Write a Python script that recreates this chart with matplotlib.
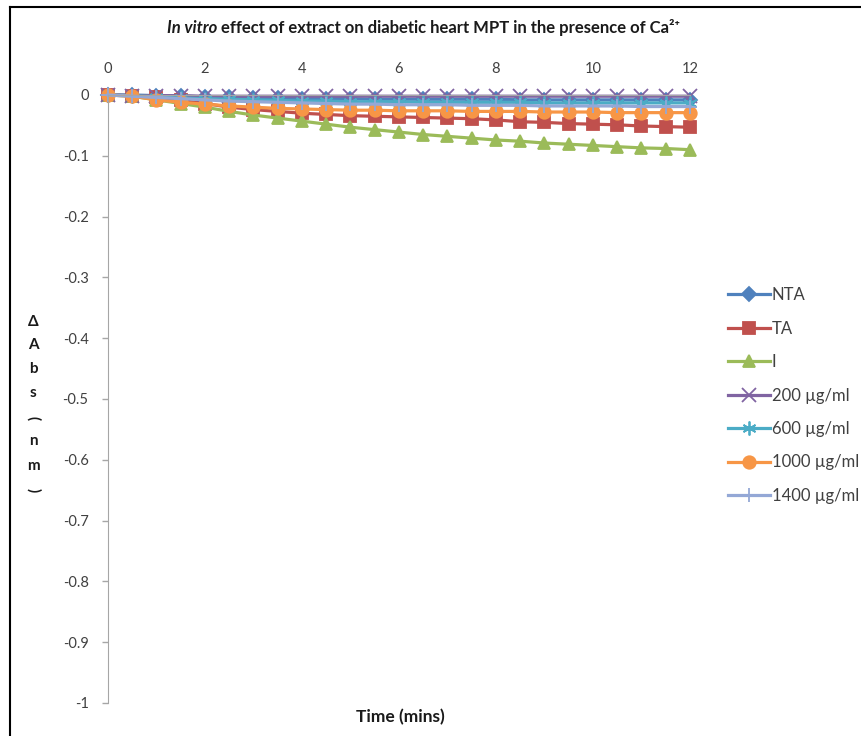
import numpy as np
import matplotlib
matplotlib.use('Agg')
import matplotlib.pyplot as plt
from matplotlib.lines import Line2D

plt.rcParams['font.family'] = ['Lato', 'DejaVu Sans']

# time points (mins)
time = [0, 0.5, 1, 1.5, 2, 2.5, 3, 3.5, 4, 4.5, 5, 5.5, 6, 6.5, 7, 7.5,
        8, 8.5, 9, 9.5, 10, 10.5, 11, 11.5, 12]

nta = [0, 0, -0.001, -0.002, -0.003, -0.004, -0.005, -0.005, -0.006, -0.006,
       -0.006, -0.007, -0.007, -0.007, -0.007, -0.007, -0.007, -0.008, -0.008,
       -0.008, -0.008, -0.008, -0.008, -0.008, -0.008]
ta = [0, -0.001, -0.004, -0.009, -0.014, -0.020, -0.024, -0.027, -0.030, -0.032,
      -0.034, -0.035, -0.036, -0.037, -0.038, -0.039, -0.041, -0.044, -0.045,
      -0.047, -0.048, -0.049, -0.051, -0.052, -0.053]
ind = [0, -0.002, -0.008, -0.014, -0.020, -0.027, -0.033, -0.038, -0.043, -0.048,
       -0.053, -0.057, -0.061, -0.065, -0.068, -0.071, -0.074, -0.076, -0.079,
       -0.081, -0.083, -0.085, -0.087, -0.088, -0.090]
c200 = [0, -0.001, -0.001, -0.001, -0.002, -0.002, -0.002, -0.002, -0.002, -0.002,
        -0.002, -0.002, -0.002, -0.002, -0.002, -0.002, -0.002, -0.002, -0.002,
        -0.002, -0.002, -0.002, -0.002, -0.002, -0.002]
c600 = [0, -0.001, -0.003, -0.005, -0.006, -0.007, -0.008, -0.009, -0.010, -0.010,
        -0.011, -0.011, -0.011, -0.012, -0.012, -0.012, -0.012, -0.012, -0.013,
        -0.013, -0.013, -0.013, -0.013, -0.013, -0.013]
c1000 = [0, -0.002, -0.008, -0.012, -0.015, -0.018, -0.020, -0.022, -0.023, -0.024,
         -0.025, -0.025, -0.026, -0.026, -0.026, -0.027, -0.027, -0.027, -0.028,
         -0.028, -0.028, -0.029, -0.029, -0.029, -0.029]
c1400 = [0, -0.002, -0.004, -0.006, -0.008, -0.010, -0.011, -0.012, -0.013, -0.014,
         -0.015, -0.015, -0.016, -0.016, -0.016, -0.017, -0.017, -0.017, -0.018,
         -0.018, -0.018, -0.018, -0.019, -0.019, -0.019]

labels = ['NTA', 'TA', 'I', '200 µg/ml', '600 µg/ml', '1000 µg/ml', '1400 µg/ml']
series = [nta, ta, ind, c200, c600, c1000, c1400]
colors = ['#4F81BD', '#C0504D', '#9BBB59', '#8064A2', '#4BACC6', '#F79646', '#94A8D6']
markers = ['D', 's', '^', 'x', (6, 2, 0), 'o', '+']
msizes = [7, 9, 9, 10, 10, 9, 10]

yticks = [0, -0.1, -0.2, -0.3, -0.4, -0.5, -0.6, -0.7, -0.8, -0.9, -1]
ytick_labels = ['0', '-0.1', '-0.2', '-0.3', '-0.4', '-0.5', '-0.6', '-0.7', '-0.8', '-0.9', '-1']
xticks = [0, 2, 4, 6, 8, 10, 12]

W, H = 862, 736
fig = plt.figure(figsize=(W / 100, H / 100), dpi=100)
ax = fig.add_axes([108 / W, 1 - 703 / H, 582 / W, (703 - 95) / H])

for y, lab, c, m, ms in zip(series, labels, colors, markers, msizes):
    ax.plot(time, y, color=c, lw=2.3, marker=m, markersize=ms,
            markerfacecolor=c, markeredgecolor=c, markeredgewidth=1.3,
            label=lab, clip_on=False)

ax.set_xlim(0, 12)
ax.set_ylim(-1, 0)
ax.set_xticks(xticks)
ax.set_xticklabels([str(v) for v in xticks])
ax.set_yticks(yticks)
ax.set_yticklabels(ytick_labels)

ax.xaxis.tick_top()
ax.tick_params(axis='x', length=0, pad=14, labelsize=10.5, labelcolor='#404040')
ax.tick_params(axis='y', length=4, width=1, color='#A6A6A6', pad=10,
               labelsize=10.5, labelcolor='#404040', direction='out')
for s in ['right', 'bottom']:
    ax.spines[s].set_visible(False)
ax.spines['left'].set_color('#A6A6A6')
ax.spines['top'].set_color('#A6A6A6')

# title (italic part + normal part)
renderer = fig.canvas.get_renderer()
t1 = fig.text(167 / W, 1 - 33 / H, 'In vitro', ha='left', va='baseline',
              fontsize=12, fontstyle='italic', fontweight='bold', color='#1a1a1a')
x_end = t1.get_window_extent(renderer).x1
fig.text((x_end + 4) / W, 1 - 33 / H,
         'effect of extract on diabetic heart MPT in the presence of Ca²⁺',
         ha='left', va='baseline', fontsize=12, fontweight='bold', color='#1a1a1a')

# x-axis title
fig.text(400 / W, 1 - 717 / H, 'Time (mins)', ha='center', va='center',
         fontsize=12.5, fontweight='bold', color='#1a1a1a')

# stacked y-axis title
ychars = [('Δ', 0), ('A', 0), ('b', 0), ('s', 0), ('(', -90), ('n', 0), ('m', 0), (')', -90)]
ypos = [322, 345, 369, 393, 418, 441, 466, 490]
for (ch, rot), yp in zip(ychars, ypos):
    fig.text(33 / W, 1 - yp / H, ch, ha='center', va='center', rotation=rot,
             fontsize=11, fontweight='bold', color='#1a1a1a')

leg = ax.legend(loc='upper left', bbox_to_anchor=(728 / W, 1 - 287 / H),
                bbox_transform=fig.transFigure, frameon=False, fontsize=12,
                handlelength=2.5, handletextpad=0.12, labelspacing=1.05,
                borderpad=0, borderaxespad=0)
for t in leg.get_texts():
    t.set_color('#404040')

# outer frame (top and left edges)
fig.add_artist(Line2D([10 / W, 1], [1 - 7 / H, 1 - 7 / H], color='black', lw=1.5,
                      transform=fig.transFigure))
fig.add_artist(Line2D([10 / W, 10 / W], [0, 1 - 7 / H], color='black', lw=1.5,
                      transform=fig.transFigure))

fig.savefig('out.png', dpi=100, facecolor='white')
plt.close(fig)
